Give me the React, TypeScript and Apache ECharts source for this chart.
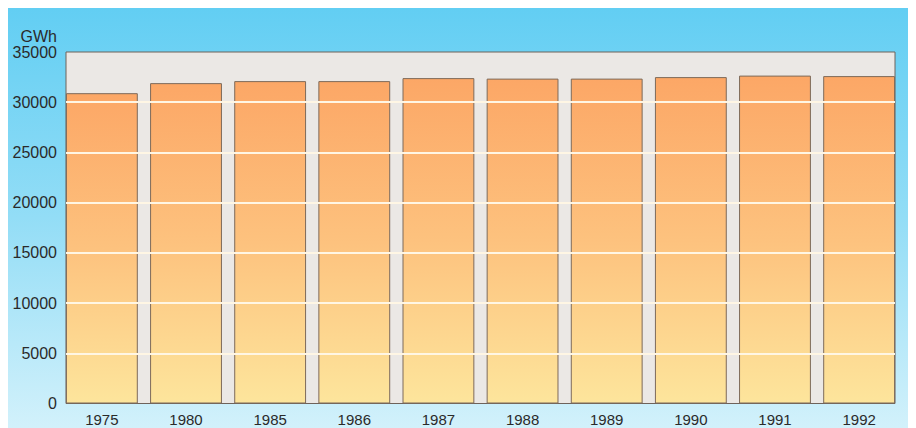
import React, { useEffect, useRef } from "react";
import * as echarts from "echarts";

const years = ["1975", "1980", "1985", "1986", "1987", "1988", "1989", "1990", "1991", "1992"];
const generation = [30900, 31900, 32100, 32100, 32400, 32350, 32350, 32500, 32650, 32600];
const yMin = 0;
const yMax = 35000;
const yStep = 5000;
const unitLabel = "GWh";

export default function App() {
  const ref = useRef<HTMLDivElement>(null);
  useEffect(() => {
    document.body.style.overflow = "hidden";
    const chart = echarts.init(ref.current!, null, { renderer: "svg" });
    const font = "'Liberation Sans', Arial, Helvetica, sans-serif";
    chart.setOption({
      animation: false,
      backgroundColor: new echarts.graphic.LinearGradient(0, 0, 0, 1, [
        { offset: 0, color: "#62cef3" },
        { offset: 0.5, color: "#93ddf6" },
        { offset: 1, color: "#d2f1fb" },
      ]),
      textStyle: { fontFamily: font },
      grid: [
        { left: 51.8, right: 14.8, top: 44, bottom: 24.5 },
        {
          left: 58,
          right: 21,
          top: 44,
          bottom: 24.5,
          show: true,
          backgroundColor: "#ebe8e5",
          borderColor: "#6e625a",
          borderWidth: 1,
        },
      ],
      xAxis: [
        {
          type: "category",
          gridIndex: 0,
          data: years,
          axisLine: { show: false },
          axisTick: { show: false },
          axisLabel: { color: "#2a2a2a", fontSize: 15, margin: 8, fontFamily: font },
        },
        { type: "value", gridIndex: 1, show: false, min: 0, max: 1 },
      ],
      yAxis: [
        { type: "value", gridIndex: 0, min: yMin, max: yMax, interval: yStep, show: false },
        {
          type: "value",
          gridIndex: 1,
          min: yMin,
          max: yMax,
          interval: yStep,
          z: 5,
          axisLine: { show: false },
          axisTick: { show: false },
          splitLine: {
            show: true,
            showMinLine: false,
            showMaxLine: false,
            lineStyle: { color: "#fff6e4", width: 2 },
          },
          axisLabel: {
            color: "#2a2a2a",
            fontSize: 16,
            margin: 9,
            fontFamily: font,
            formatter: (v: number) => String(v),
          },
          name: unitLabel,
          nameLocation: "end",
          nameGap: 8,
          nameTextStyle: {
            color: "#2a2a2a",
            fontSize: 16,
            align: "right",
            padding: [0, 9, 0, 0],
            fontFamily: font,
          },
        },
      ],
      series: [
        {
          type: "bar",
          xAxisIndex: 0,
          yAxisIndex: 0,
          data: generation,
          barCategoryGap: "14.6%",
          itemStyle: {
            color: new echarts.graphic.LinearGradient(0, 0, 0, 1, [
              { offset: 0, color: "#fca766" },
              { offset: 0.5, color: "#fdc27e" },
              { offset: 1, color: "#fde59c" },
            ]),
            borderColor: "#7d6a5a",
            borderWidth: 1,
          },
        },
      ],
    });
    return () => chart.dispose();
  }, []);
  return <div ref={ref} style={{ width: 908, height: 420 }} />;
}
